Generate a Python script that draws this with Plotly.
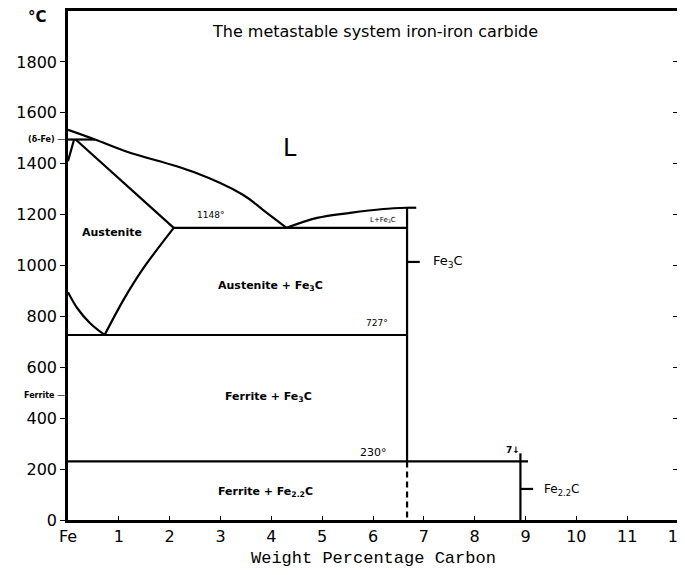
import plotly.graph_objects as go

# ---- data (weight % C, temperature °C) ----
liq_c = [0, 0.53, 1.16, 2.46, 3.44, 3.84, 4.3]
liq_t = [1533, 1495, 1447, 1368, 1278, 1218, 1148]
liqfe3c_c = [4.3, 4.9, 5.55, 6.2, 6.67]
liqfe3c_t = [1148, 1187, 1207, 1222, 1227]
cap_c = [6.67, 6.85]
cap_t = [1227, 1227]
sol_c = [0.15, 2.08]
sol_t = [1495, 1148]
delta_c = [0, 0.12]
delta_t = [1410, 1495]
perit_c = [0, 0.53]
perit_t = [1495, 1495]
eut_c = [2.08, 6.67]
eut_t = [1148, 1148]
a3_c = [0, 0.18, 0.43, 0.72]
a3_t = [895, 833, 774, 727]
acm_c = [0.72, 1.1, 1.46, 2.08]
acm_t = [727, 868, 983, 1148]
eutd_c = [0, 6.67]
eutd_t = [727, 727]
fe3c_c = [6.67, 6.67]
fe3c_t = [1227, 230]
fe3c_dash_c = [6.67, 6.67]
fe3c_dash_t = [230, 0]
l230_c = [0, 9.05]
l230_t = [230, 230]
fe22c_c = [8.9, 8.9]
fe22c_t = [262, 0]
fe3c_tick_c = [6.67, 6.92]
fe3c_tick_t = [1014, 1014]
fe22c_tick_c = [8.9, 9.15]
fe22c_tick_t = [122, 122]

x_ticks = list(range(0, 13))
x_ticklabels = ["Fe"] + [str(i) for i in range(1, 13)]
y_ticks = list(range(0, 2000, 200))

fig = go.Figure()

def line(c, t, dash="solid", w=2.2, shape="linear", yaxis="y"):
    fig.add_trace(go.Scatter(x=c, y=t, mode="lines", yaxis=yaxis,
                             line=dict(color="black", width=w, dash=dash, shape=shape),
                             showlegend=False, hoverinfo="skip"))

for c, t in [(liq_c, liq_t), (liqfe3c_c, liqfe3c_t), (a3_c, a3_t), (acm_c, acm_t)]:
    line(c, t, shape="spline")
for c, t in [(cap_c, cap_t), (sol_c, sol_t), (delta_c, delta_t), (perit_c, perit_t),
             (eut_c, eut_t), (eutd_c, eutd_t), (fe3c_c, fe3c_t),
             (fe22c_c, fe22c_t), (fe3c_tick_c, fe3c_tick_t), (fe22c_tick_c, fe22c_tick_t)]:
    line(c, t)
line(l230_c, l230_t, yaxis="y2")
line(fe3c_dash_c, fe3c_dash_t, dash="6px,4px")

F = "DejaVu Sans"
def label(x, y, text, size=11, bold=False, xanchor="center", xref="x", yref="y"):
    fig.add_annotation(x=x, y=y, xref=xref, yref=yref,
                       text=("<b>%s</b>" % text) if bold else text,
                       showarrow=False, xanchor=xanchor, yanchor="middle",
                       font=dict(family=F, size=size, color="black"))

label(2.8, 1918, "The metastable system iron-iron carbide", size=16, xanchor="left")
label(4.37, 1462, "L", size=24)
label(0.87, 1128, "Austenite", size=11, bold=True)
label(2.8, 1199, "1148°", size=9)
label(6.2, 1180, "L+Fe<sub>3</sub>C", size=7)
label(3.98, 920, "Austenite + Fe<sub>3</sub>C", size=11, bold=True)
label(6.08, 774, "727°", size=9)
label(3.94, 483, "Ferrite + Fe<sub>3</sub>C", size=11, bold=True)
label(6.0, 267, "230°", size=11)
label(3.88, 110, "Ferrite + Fe<sub>2.2</sub>C", size=11, bold=True)
label(8.75, 275, "7↓", size=9, bold=True)
label(7.15, 1014, "Fe<sub>3</sub>C", size=13, xanchor="left")
label(9.33, 118, "Fe<sub>2.2</sub>C", size=12, xanchor="left")
label(-0.002, 1494, "<b>(δ-Fe)</b> —", size=8, xanchor="right", xref="paper")
label(-0.002, 490, "<b>Ferrite</b> —", size=8, xanchor="right", xref="paper")
label(-0.05, 1975, "<b>°C</b>", size=15, xref="paper")
fig.add_annotation(x=0.5, y=-0.075, xref="paper", yref="paper",
                   text="Weight Percentage Carbon", showarrow=False,
                   xanchor="center", yanchor="middle",
                   font=dict(family="Liberation Mono", size=17, color="black"))

fig.update_layout(
    width=685, height=575,
    margin=dict(l=60, r=15, t=3, b=63),
    paper_bgcolor="white", plot_bgcolor="white",
    font=dict(family=F, color="black"),
    xaxis=dict(range=[0, 12], tickvals=x_ticks, ticktext=x_ticklabels,
               showgrid=False, zeroline=False, showline=True, mirror=True,
               linecolor="black", linewidth=2.5, ticks="inside", ticklen=4,
               tickcolor="black", tickfont=dict(family=F, size=16),
               automargin=False, ticklabeloverflow="allow"),
    yaxis=dict(range=[0, 2000], tickvals=y_ticks,
               showgrid=False, zeroline=False, showline=True, mirror=True,
               linecolor="black", linewidth=2.5, ticks="outside", ticklen=5,
               tickcolor="black", tickfont=dict(family=F, size=16),
               automargin=False, ticklabeloverflow="allow"),
    yaxis2=dict(range=[0, 2000], overlaying="y", side="right", matches="y",
                tickvals=y_ticks, ticks="inside", ticklen=5, tickcolor="black",
                showticklabels=False, showgrid=False, zeroline=False,
                showline=False, automargin=False),
)

fig.write_html("out.html")
